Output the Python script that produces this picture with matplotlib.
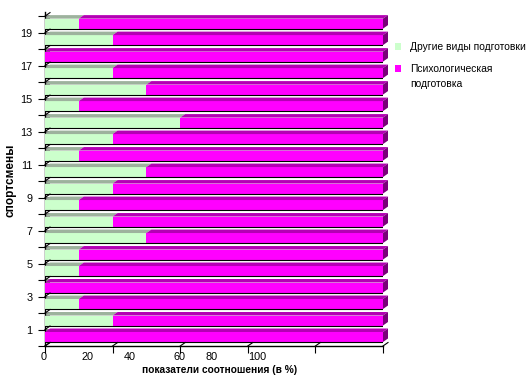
import matplotlib
matplotlib.use('Agg')
import matplotlib.pyplot as plt
from matplotlib.patches import Polygon, Rectangle

plt.rcParams['font.family'] = ['Liberation Sans', 'DejaVu Sans']

# ---- data ----
athletes = list(range(1, 21))
other_share = [0, 20, 10, 0, 10, 10, 30, 20, 10, 20, 30, 10, 20, 40, 10, 30, 20, 0, 20, 10]
psych_share = [100, 80, 90, 100, 90, 90, 70, 80, 90, 80, 70, 90, 80, 60, 90, 70, 80, 100, 80, 90]
x_ticks = [0, 20, 40, 60, 80, 100]
x_tick_labels = ['0', '20', '40', '60', '80', '100']
y_tick_labels = ['1', '3', '5', '7', '9', '11', '13', '15', '17', '19']
series_names = ['Другие виды подготовки', 'Психологическая подготовка']
x_title = 'показатели соотношения (в %)'
y_title = 'спортсмены'

# ---- style ----
W, H = 530, 380
green_front, green_top = '#CCFFCC', '#9DB29D'
mag_front, mag_top, mag_side = '#FF00FF', '#B400B4', '#7A007A'
wall_grey = '#8C8C8C'

fig = plt.figure(figsize=(W / 100, H / 100), dpi=100)
ax = fig.add_axes([45 / W, 34 / H, 338 / W, 334 / H])
ax.set_xlim(0, 100)
ax.set_ylim(0.5, 20.75)

px_x = 100 / 338.0            # data units per pixel (x)
px_y = 20.25 / 334.0          # data units per pixel (y)
dx, dz = 5 * px_x, 3.5 * px_y  # 3D depth offsets
front_h = 10 * px_y
front_off = 4 * px_y

for i, (o, p) in enumerate(zip(other_share, psych_share)):
    cat = athletes[i]
    yb = cat - 0.5 + front_off
    yt = yb + front_h
    # left wall piece
    ax.add_patch(Rectangle((0, yt), dx, dz, facecolor=wall_grey, edgecolor='none', zorder=2))
    # front faces
    segs = [(0, o, green_front, green_top), (o, p, mag_front, mag_top)]
    for left, w, fc, tc in segs:
        if w <= 0:
            continue
        ax.add_patch(Rectangle((left, yb), w, front_h, facecolor=fc, edgecolor='none', zorder=3))
        ax.add_patch(Polygon([(left, yt), (left + w, yt), (left + w + dx, yt + dz), (left + dx, yt + dz)],
                             closed=True, facecolor=tc, edgecolor='none', zorder=3, clip_on=False))
    end = o + p
    ax.add_patch(Polygon([(end, yb), (end + dx, yb + dz), (end + dx, yt + dz), (end, yt)],
                         closed=True, facecolor=mag_side, edgecolor='none', zorder=3, clip_on=False))
    ax.plot([0, end], [yb, yb], color='black', lw=0.8, zorder=4, solid_capstyle='butt')

# axes / ticks
for s in ['top', 'right']:
    ax.spines[s].set_visible(False)
ax.spines['left'].set_linewidth(1.0)
ax.spines['bottom'].set_linewidth(1.0)

boundaries = [k + 0.5 for k in range(0, 21)]
ax.set_yticks(boundaries)
ylabels = []
for b in boundaries:
    lab = str(int(b - 0.5))
    ylabels.append(lab if lab in y_tick_labels else '')
ax.set_yticklabels(ylabels, fontsize=7.8)
ax.tick_params(axis='y', length=5, width=0.8, pad=4)
for b in boundaries:
    ax.plot([0, dx], [b, b + dz], color='black', lw=0.8, clip_on=False, zorder=5)

ax.set_xticks(x_ticks)
ax.set_xticklabels([''] * len(x_ticks))
ax.tick_params(axis='x', length=5, width=0.8)
for xt in x_ticks:
    ax.plot([xt, xt + dx], [0.5, 0.5 + dz], color='black', lw=0.8, clip_on=False, zorder=5)

# x tick labels placed as in the reference (Excel 3D offset)
label_px = [44, 88, 130, 180, 212, 257]
for lab, px in zip(x_tick_labels, label_px):
    fig.text(px / W, 1 - 357 / H, lab, ha='center', va='center', fontsize=7.8)

fig.text(220 / W, 1 - 370 / H, x_title, ha='center', va='center', fontsize=7.3, fontweight='bold')
fig.text(11 / W, 1 - 180 / H, y_title, ha='center', va='center', fontsize=8.5,
         fontweight='bold', rotation=90)

# legend
leg_y = [46, 68]
leg_colors = [green_front, mag_front]
leg_texts = [series_names[0], 'Психологическая\nподготовка']
for yy, c, t in zip(leg_y, leg_colors, leg_texts):
    fig.patches.append(Rectangle((395 / W, 1 - (yy + 4) / H), 6 / W, 7 / H, facecolor=c,
                                 edgecolor='none', transform=fig.transFigure))
    fig.text(410 / W, 1 - (yy - 4) / H, t, ha='left', va='top', fontsize=7.4, linespacing=1.6)

fig.savefig('out.png', dpi=100, facecolor='white')
